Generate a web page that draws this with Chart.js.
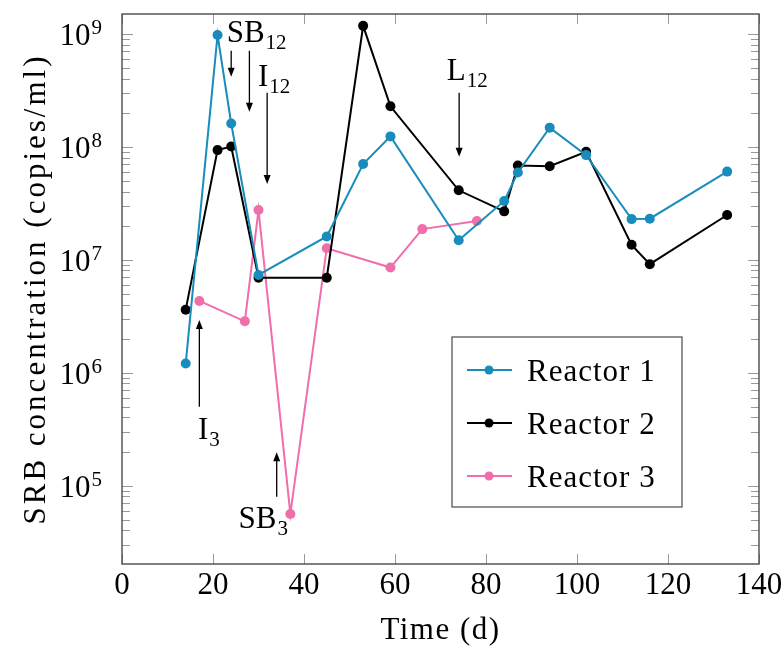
<!DOCTYPE html>
<html>
<head>
<meta charset="utf-8">
<script src="https://cdn.jsdelivr.net/npm/chart.js@4.4.1/dist/chart.umd.min.js"></script>
<style>
    html, body { margin: 0; padding: 0; background: #fff; }
    #wrap { width: 783px; height: 648px; position: relative; }
</style>
</head>
<body>
<div id="wrap"><canvas id="srbChart"></canvas></div>
<script>
// sampling days and SRB concentrations (copies/ml) per reactor
const r1Days = [14, 21, 24, 30, 45, 53, 59, 74, 84, 87, 94, 102, 112, 116, 133];
const r1Values = [1.2e6, 9.7e8, 1.6e8, 7.3e6, 1.6e7, 7.0e7, 1.23e8, 1.48e7, 3.3e7, 5.9e7, 1.47e8, 8.4e7, 2.28e7, 2.3e7, 6.0e7];

const r2Days = [14, 21, 24, 30, 45, 53, 59, 74, 84, 87, 94, 102, 112, 116, 133];
const r2Values = [3.6e6, 9.3e7, 1.0e8, 6.9e6, 6.9e6, 1.17e9, 2.27e8, 4.1e7, 2.67e7, 6.8e7, 6.7e7, 9.0e7, 1.35e7, 9.1e6, 2.48e7];

const r3Days = [17, 27, 30, 37, 45, 59, 66, 78];
const r3Values = [4.3e6, 2.84e6, 2.74e7, 5.6e4, 1.26e7, 8.5e6, 1.86e7, 2.19e7];

const seriesNames = ["Reactor 1", "Reactor 2", "Reactor 3"];
const seriesColors = ["#1a8cbc", "#000000", "#f06eaa"];

const xTicks = [0, 20, 40, 60, 80, 100, 120, 140];
const yExponents = [5, 6, 7, 8, 9];

// event labels: text, subscript, anchor (day, log10 value)
const eventLabels = [
    { text: "SB", sub: "12", day: 23.0, log: 8.925 },
    { text: "I", sub: "12", day: 29.9, log: 8.535 },
    { text: "L", sub: "12", day: 71.4, log: 8.588 },
    { text: "I", sub: "3", day: 16.7, log: 5.411 },
    { text: "SB", sub: "3", day: 25.6, log: 4.624 }
];
// event arrows: day, log10 of tail, log10 of tip
const eventArrows = [
    { day: 24.0, from: 8.848, to: 8.618 },
    { day: 28.0, from: 8.848, to: 8.308 },
    { day: 31.9, from: 8.476, to: 7.668 },
    { day: 74.1, from: 8.476, to: 7.910 },
    { day: 17.0, from: 5.697, to: 6.465 },
    { day: 34.0, from: 4.901, to: 5.294 }
];

const serif = "'Liberation Serif', 'DejaVu Serif', serif";
const bigFont = "31px " + serif;
const smallFont = "21px " + serif;
const frameColor = "#4a4a4a";
const tickColor = "#9a9a9a";

function toPoints(days, values) {
    return days.map((d, i) => ({ x: d, y: values[i] }));
}

function richText(ctx, x, y, base, sub, sup, align) {
    ctx.font = bigFont;
    const wBase = ctx.measureText(base).width;
    ctx.font = smallFont;
    const wSmall = ctx.measureText(sub || sup || "").width;
    let left = x;
    if (align === "right") left = x - wBase - wSmall;
    if (align === "center") left = x - (wBase + wSmall) / 2;
    ctx.textAlign = "left";
    ctx.textBaseline = "alphabetic";
    ctx.font = bigFont;
    ctx.fillText(base, left, y);
    ctx.font = smallFont;
    if (sub) ctx.fillText(sub, left + wBase + 1, y + 7);
    if (sup) ctx.fillText(sup, left + wBase + 1, y - 11);
}

function arrow(ctx, x, y1, y2) {
    const dir = y2 > y1 ? 1 : -1;
    ctx.strokeStyle = "#000";
    ctx.fillStyle = "#000";
    ctx.lineWidth = 1.3;
    ctx.beginPath();
    ctx.moveTo(x, y1);
    ctx.lineTo(x, y2 - dir * 6);
    ctx.stroke();
    ctx.beginPath();
    ctx.moveTo(x, y2);
    ctx.lineTo(x - 3.5, y2 - dir * 9);
    ctx.lineTo(x + 3.5, y2 - dir * 9);
    ctx.closePath();
    ctx.fill();
}

const decorations = {
    id: "decorations",
    afterDraw(chart) {
        const ctx = chart.ctx;
        const area = chart.chartArea;
        const xs = chart.scales.x;
        const ys = chart.scales.y;
        ctx.save();

        // inward ticks on all four sides
        ctx.strokeStyle = tickColor;
        ctx.lineWidth = 1;
        ctx.beginPath();
        xTicks.forEach(t => {
            const px = Math.round(xs.getPixelForValue(t)) + 0.5;
            ctx.moveTo(px, area.bottom); ctx.lineTo(px, area.bottom - 10);
            ctx.moveTo(px, area.top); ctx.lineTo(px, area.top + 10);
        });
        for (let e = 4; e <= 9; e++) {
            for (let k = 1; k <= 9; k++) {
                const v = k * Math.pow(10, e);
                if (v < ys.min || v > ys.max) continue;
                const py = Math.round(ys.getPixelForValue(v)) + 0.5;
                const len = k === 1 ? 11 : 8;
                ctx.moveTo(area.left, py); ctx.lineTo(area.left + len, py);
                ctx.moveTo(area.right, py); ctx.lineTo(area.right - len, py);
            }
        }
        ctx.stroke();

        // frame
        ctx.strokeStyle = frameColor;
        ctx.lineWidth = 1.4;
        ctx.strokeRect(area.left, area.top, area.right - area.left, area.bottom - area.top);

        // tick labels
        ctx.fillStyle = "#000";
        ctx.font = bigFont;
        ctx.textAlign = "center";
        ctx.textBaseline = "alphabetic";
        xTicks.forEach(t => {
            ctx.fillText(String(t), xs.getPixelForValue(t), area.bottom + 30);
        });
        yExponents.forEach(e => {
            const py = ys.getPixelForValue(Math.pow(10, e));
            richText(ctx, area.left - 21, py + 11, "10", null, String(e), "right");
        });

        // axis titles (a little letter spacing to get closer to the wide original face)
        ctx.font = bigFont;
        ctx.textAlign = "center";
        ctx.letterSpacing = "1.5px";
        ctx.fillText("Time (d)", (area.left + area.right) / 2, 639);
        ctx.save();
        ctx.translate(45, (area.top + area.bottom) / 2);
        ctx.rotate(-Math.PI / 2);
        ctx.letterSpacing = "3px";
        ctx.fillText("SRB concentration (copies/ml)", 0, 0);
        ctx.restore();
        ctx.letterSpacing = "0px";

        // event annotations
        eventArrows.forEach(a => {
            const px = xs.getPixelForValue(a.day);
            arrow(ctx, px, ys.getPixelForValue(Math.pow(10, a.from)), ys.getPixelForValue(Math.pow(10, a.to)));
        });
        ctx.fillStyle = "#000";
        eventLabels.forEach(l => {
            richText(ctx, xs.getPixelForValue(l.day), ys.getPixelForValue(Math.pow(10, l.log)), l.text, l.sub, null, "left");
        });

        // legend box
        const lx = 452, ly = 337, lw = 230, lh = 170;
        ctx.fillStyle = "#fff";
        ctx.fillRect(lx, ly, lw, lh);
        ctx.strokeStyle = frameColor;
        ctx.lineWidth = 1.2;
        ctx.strokeRect(lx, ly, lw, lh);
        seriesNames.forEach((name, i) => {
            const cy = 370 + i * 53;
            ctx.strokeStyle = seriesColors[i];
            ctx.lineWidth = 2;
            ctx.beginPath();
            ctx.moveTo(467, cy); ctx.lineTo(512, cy);
            ctx.stroke();
            ctx.fillStyle = seriesColors[i];
            ctx.beginPath();
            ctx.arc(489, cy, 4.5, 0, Math.PI * 2);
            ctx.fill();
            ctx.fillStyle = "#000";
            ctx.font = bigFont;
            ctx.textAlign = "left";
            ctx.letterSpacing = "1px";
            ctx.fillText(name, 527, cy + 11);
            ctx.letterSpacing = "0px";
        });
        ctx.restore();
    }
};

function buildChart() {
    const ref = document.getElementById("srbChart");
    const allData = [toPoints(r1Days, r1Values), toPoints(r2Days, r2Values), toPoints(r3Days, r3Values)];

    new Chart(ref, {
        type: "line",
        data: {
            datasets: allData.map((pts, i) => ({
                label: seriesNames[i],
                data: pts,
                borderColor: seriesColors[i],
                backgroundColor: seriesColors[i],
                borderWidth: 2,
                pointRadius: 5,
                pointHoverRadius: 5,
                pointBorderWidth: 0,
                tension: 0,
                fill: false
            }))
        },
        options: {
            responsive: true,
            maintainAspectRatio: false,
            animation: false,
            devicePixelRatio: 1,
            layout: { padding: { top: 14, right: 24, left: 0, bottom: 0 } },
            plugins: {
                legend: { display: false },
                tooltip: { enabled: false }
            },
            scales: {
                x: {
                    type: "linear",
                    min: 0,
                    max: 140,
                    ticks: { display: false },
                    grid: { display: false },
                    border: { display: false },
                    afterFit: (s) => { s.height = 84; }
                },
                y: {
                    type: "logarithmic",
                    min: 2.02e4,
                    max: 1.49e9,
                    ticks: { display: false },
                    grid: { display: false },
                    border: { display: false },
                    afterFit: (s) => { s.width = 122; }
                }
            }
        },
        plugins: [decorations]
    });
}

document.addEventListener("DOMContentLoaded", buildChart);
</script>
</body>
</html>
